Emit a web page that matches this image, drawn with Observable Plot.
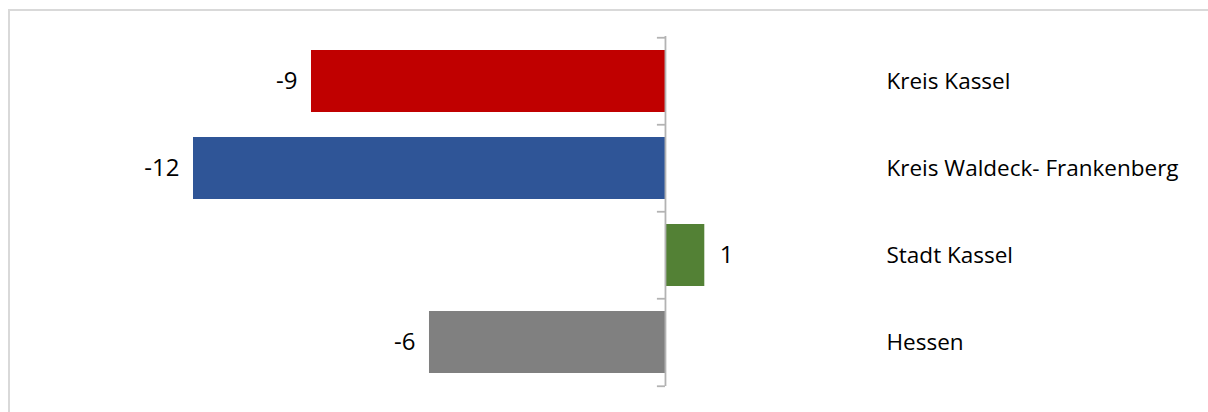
<!DOCTYPE html>
<html>
<head>
<meta charset="utf-8">
<script src="https://cdn.jsdelivr.net/npm/d3@7"></script>
<script src="https://cdn.jsdelivr.net/npm/@observablehq/plot@0.6"></script>
<style>
  html, body { margin: 0; padding: 0; background: #fff; }
  #wrap { position: relative; width: 1208px; height: 412px; overflow: hidden; }
  #frame { position: absolute; left: 8px; top: 9px; width: 1220px; height: 420px; border: 2px solid #d9d9d9; box-sizing: border-box; }
  #chart { position: absolute; left: 0; top: 0; }
</style>
</head>
<body>
<div id="wrap"><div id="frame"></div><div id="chart"></div></div>
<script>
const regions = ["Kreis Kassel", "Kreis Waldeck- Frankenberg", "Stadt Kassel", "Hessen"];
const values = [-9, -12, 1, -6];
const colors = ["#c00000", "#2f5597", "#538135", "#808080"];

const data = regions.map((r, i) => ({region: r, value: values[i], color: colors[i]}));
const lastRegion = [regions[regions.length - 1]];

const step = 350 / 4;
const font = "'Open Sans', sans-serif";

const chart = Plot.plot({
  width: 1208,
  height: 412,
  marginTop: 36,
  marginBottom: 26,
  marginLeft: 0,
  marginRight: 0,
  style: {background: "transparent", fontFamily: font},
  x: {domain: [-12, 1], range: [193, 704.3], axis: null},
  y: {domain: regions, paddingInner: 0.29, paddingOuter: 0.145, axis: null},
  marks: [
    Plot.barX(data, {y: "region", x1: 0, x2: "value", fill: "color"}),
    Plot.ruleX([0], {stroke: "#b3b3b3", strokeWidth: 1.8}),
    Plot.ruleY(regions, {y: (d) => d, x1: -0.205, x2: 0, dy: -step / 2, stroke: "#b3b3b3", strokeWidth: 1.8}),
    Plot.ruleY(lastRegion, {y: (d) => d, x1: -0.205, x2: 0, dy: step / 2, stroke: "#b3b3b3", strokeWidth: 1.8}),
    Plot.text(data.filter((d) => d.value < 0), {y: "region", x: "value", text: (d) => String(d.value),
      textAnchor: "end", dx: -14, fontSize: 24, fill: "#000"}),
    Plot.text(data.filter((d) => d.value >= 0), {y: "region", x: "value", text: (d) => String(d.value),
      textAnchor: "start", dx: 15, fontSize: 24, fill: "#000"}),
    Plot.text(regions, {y: (d) => d, text: (d) => d, frameAnchor: "left", dx: 886, textAnchor: "start",
      fontSize: 22.5, fill: "#000"})
  ]
});
document.getElementById("chart").appendChild(chart);
</script>
</body>
</html>
